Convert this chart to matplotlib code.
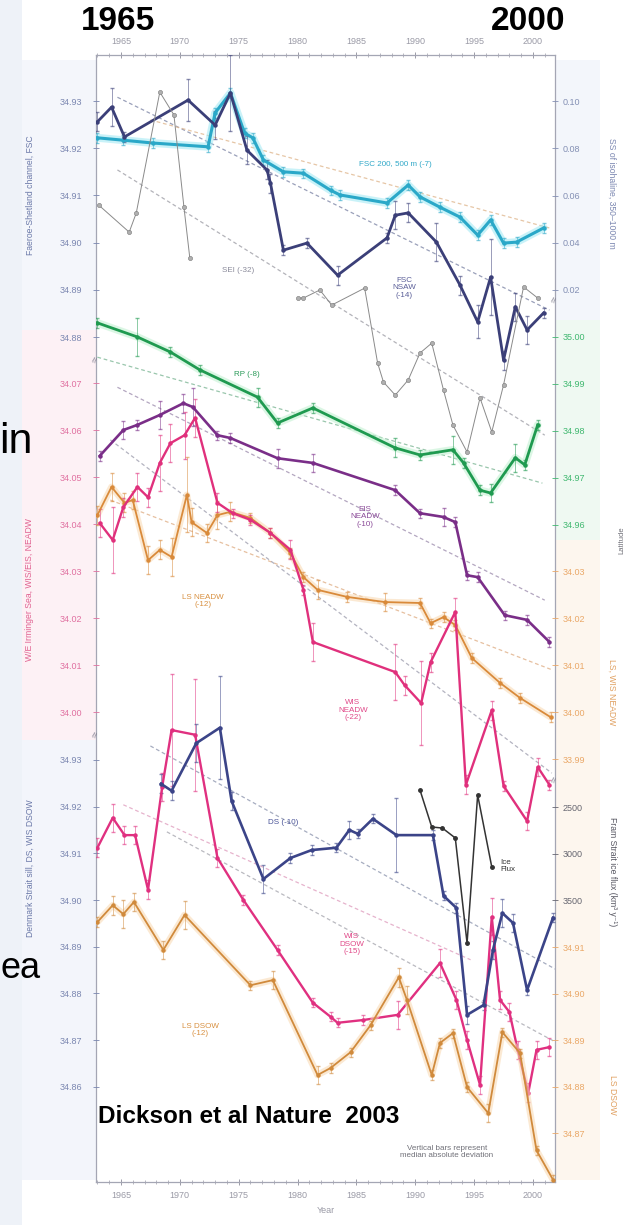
import numpy as np
import matplotlib.pyplot as plt
from matplotlib.patches import Rectangle

plt.rcParams['font.family'] = ['Liberation Sans', 'DejaVu Sans']

# ---------------- data ----------------
# top panel: Faeroe-Shetland Channel (left axis, salinity)
nsaw_years = [1963.0, 1964.2, 1965.3, 1970.7, 1973.0, 1974.3, 1975.7, 1977.4, 1977.7, 1978.8, 1980.8, 1983.4,
              1987.6, 1988.3, 1989.4, 1991.8, 1993.8, 1995.3, 1996.4, 1997.5, 1998.5, 1999.5, 2000.9]
nsaw_sal = [34.9256, 34.9287, 34.9224, 34.9302, 34.9249, 34.9317, 34.9196, 34.9154, 34.9126, 34.8984, 34.8999, 34.8931,
            34.9010, 34.9058, 34.9063, 34.9001, 34.8910, 34.8832, 34.8927, 34.8751, 34.8864, 34.8815, 34.8851]
nsaw_err = [0.002, 0.004, 0.001, 0.0045, 0.003, 0.008, 0.003, 0.002, 0.002, 0.001, 0.001, 0.002,
            0.001, 0.003, 0.002, 0.004, 0.002, 0.0035, 0.008, 0.002, 0.003, 0.003, 0.001]

fsc_years = [1963.0, 1965.2, 1967.7, 1972.4, 1973.0, 1974.3, 1975.5, 1976.2, 1977.1, 1978.8, 1980.5, 1982.8,
             1983.6, 1987.6, 1989.4, 1990.4, 1992.1, 1993.8, 1995.3, 1996.4, 1997.5, 1998.6, 2000.9]
fsc_sal = [34.9222, 34.9217, 34.9211, 34.9203, 34.9275, 34.9317, 34.9232, 34.9222, 34.9175, 34.9150, 34.9147, 34.9111,
           34.9101, 34.9084, 34.9122, 34.9097, 34.9075, 34.9054, 34.9016, 34.9048, 34.8999, 34.9001, 34.9031]

# grey series on the right "SS of isohaline" axis (gap between the two surveys)
sei_years = [1963.1, 1965.7, 1966.3, 1968.3, 1969.5, 1970.35, 1970.85, np.nan,
             1980.0, 1980.5, 1981.9, 1982.9, 1985.7, 1986.8, 1987.3, 1988.3, 1989.4, 1990.4, 1991.4,
             1992.4, 1993.2, 1994.4, 1995.5, 1996.5, 1997.5, 1999.2, 2000.4]
sei_val = [0.0560, 0.0445, 0.0526, 0.1038, 0.0941, 0.0551, 0.0335, np.nan,
           0.0166, 0.0166, 0.0200, 0.0136, 0.0208, -0.0109, -0.0190, -0.0245, -0.0181, -0.0067, -0.0025,
           -0.0224, -0.0372, -0.0486, -0.0257, -0.0401, -0.0202, 0.0213, 0.0166]

# middle panel
rp_years = [1963.0, 1966.4, 1969.2, 1971.7, 1976.6, 1978.3, 1981.3, 1988.3, 1990.4, 1993.2, 1994.1, 1995.5,
            1996.4, 1998.5, 1999.3, 2000.4]
rp_sal = [35.0030, 35.0000, 34.9968, 34.9930, 34.9872, 34.9817, 34.9849, 34.9764, 34.9749, 34.9760, 34.9732, 34.9674,
          34.9668, 34.9743, 34.9728, 34.9813]
rp_err = [0.001, 0.004, 0.001, 0.001, 0.002, 0.001, 0.001, 0.002, 0.001, 0.003, 0.001, 0.001,
          0.002, 0.003, 0.001, 0.001]

eis_years = [1963.2, 1965.2, 1966.4, 1968.3, 1970.3, 1971.1, 1973.2, 1974.3, 1978.3, 1981.3, 1988.3, 1990.4,
             1992.4, 1993.4, 1994.4, 1995.3, 1997.6, 1999.5, 2001.4]
eis_sal = [34.0545, 34.0600, 34.0611, 34.0632, 34.0657, 34.0649, 34.0589, 34.0583, 34.0540, 34.0530, 34.0472, 34.0423,
           34.0415, 34.0404, 34.0291, 34.0287, 34.0206, 34.0196, 34.0149]
eis_err = [0.001, 0.002, 0.001, 0.003, 0.002, 0.004, 0.001, 0.001, 0.002, 0.002, 0.001, 0.001,
           0.002, 0.001, 0.001, 0.001, 0.001, 0.001, 0.001]

wisn_years = [1963.2, 1964.3, 1965.2, 1966.4, 1967.3, 1968.3, 1969.2, 1970.4, 1971.3, 1973.2, 1974.5, 1976.0,
              1977.7, 1979.4, 1980.5, 1981.3, 1988.3, 1989.1, 1990.5, 1991.3, 1993.4, 1994.3, 1996.5, 1997.5,
              1999.5, 2000.4, 2001.4]
wisn_sal = [34.0402, 34.0366, 34.0436, 34.0479, 34.0457, 34.0530, 34.0572, 34.0589, 34.0626, 34.0445, 34.0423, 34.0409,
            34.0381, 34.0345, 34.0260, 34.0149, 34.0085, 34.0057, 34.0019, 34.0106, 34.0213, 33.9845, 34.0004, 33.9843,
            33.9768, 33.9883, 33.9845]
wisn_err = [0.003, 0.007, 0.002, 0.003, 0.002, 0.006, 0.004, 0.005, 0.004, 0.002, 0.001, 0.001,
            0.001, 0.002, 0.001, 0.004, 0.006, 0.002, 0.009, 0.002, 0.003, 0.002, 0.002, 0.001,
            0.002, 0.002, 0.001]

lsn_years = [1963.0, 1964.2, 1965.3, 1966.0, 1967.3, 1968.3, 1969.3, 1970.6, 1971.0, 1972.3, 1973.2, 1974.3,
             1976.0, 1977.7, 1979.4, 1980.5, 1981.7, 1984.2, 1987.4, 1990.4, 1991.3, 1992.4, 1993.4, 1994.8,
             1997.2, 1998.9, 2001.5]
lsn_sal = [34.0419, 34.0479, 34.0445, 34.0451, 34.0323, 34.0345, 34.0330, 34.0462, 34.0404, 34.0381, 34.0419, 34.0426,
           34.0413, 34.0381, 34.0338, 34.0287, 34.0260, 34.0245, 34.0234, 34.0232, 34.0189, 34.0202, 34.0185, 34.0115,
           34.0062, 34.0030, 33.9989]
lsn_err = [0.002, 0.003, 0.002, 0.002, 0.003, 0.002, 0.004, 0.008, 0.003, 0.002, 0.003, 0.002,
           0.001, 0.001, 0.001, 0.001, 0.002, 0.001, 0.002, 0.001, 0.001, 0.001, 0.001, 0.001,
           0.001, 0.001, 0.001]

# bottom panel
ds_years = [1968.4, 1969.3, 1971.4, 1973.4, 1974.4, 1977.1, 1979.4, 1981.2, 1983.3, 1984.4, 1985.1, 1986.4,
            1988.4, 1991.5, 1992.4, 1993.5, 1994.4, 1995.8, 1996.6, 1997.4, 1998.3, 1999.5, 2001.7]
ds_sal = [34.9249, 34.9234, 34.9336, 34.9369, 34.9212, 34.9045, 34.9090, 34.9107, 34.9112, 34.9150, 34.9142, 34.9174,
          34.9139, 34.9139, 34.9009, 34.8983, 34.8754, 34.8775, 34.8893, 34.8972, 34.8951, 34.8807, 34.8962]
ds_err = [0.002, 0.002, 0.004, 0.011, 0.002, 0.003, 0.001, 0.001, 0.001, 0.002, 0.001, 0.001,
          0.008, 0.001, 0.001, 0.001, 0.002, 0.001, 0.002, 0.003, 0.002, 0.001, 0.001]

wisd_years = [1963.0, 1964.3, 1965.3, 1966.2, 1967.3, 1968.5, 1969.3, 1971.3, 1973.2, 1975.4, 1978.3, 1981.3,
              1982.8, 1983.4, 1985.6, 1988.5, 1992.1, 1993.5, 1994.4, 1995.5, 1996.5, 1997.2, 1998.0, 1998.7,
              1999.6, 2000.3, 2001.4]
wisd_sal = [34.9112, 34.9176, 34.9139, 34.9139, 34.9022, 34.9242, 34.9364, 34.9354, 34.9090, 34.9000, 34.8893, 34.8780,
            34.8750, 34.8737, 34.8743, 34.8754, 34.8865, 34.8786, 34.8700, 34.8604, 34.8964, 34.8786, 34.8760, 34.8679,
            34.8587, 34.8679, 34.8685]
wisd_err = [0.002, 0.003, 0.002, 0.002, 0.002, 0.003, 0.012, 0.012, 0.002, 0.001, 0.001, 0.001,
            0.001, 0.001, 0.001, 0.003, 0.003, 0.002, 0.002, 0.002, 0.004, 0.002, 0.002, 0.002,
            0.002, 0.002, 0.002]

lsd_years = [1963.0, 1964.3, 1965.2, 1966.1, 1968.6, 1970.4, 1976.0, 1977.9, 1981.7, 1982.8, 1984.5, 1986.2,
             1988.6, 1989.3, 1991.4, 1992.1, 1993.2, 1994.4, 1996.2, 1997.4, 1998.9, 2000.3, 2001.7]
lsd_sal = [34.9154, 34.9190, 34.9171, 34.9197, 34.9094, 34.9169, 34.9018, 34.9029, 34.8825, 34.8840, 34.8874, 34.8932,
           34.9035, 34.8986, 34.8825, 34.8894, 34.8915, 34.8799, 34.8743, 34.8917, 34.8872, 34.8663, 34.8600]
lsd_err = [0.001, 0.002, 0.003, 0.002, 0.002, 0.003, 0.001, 0.002, 0.002, 0.001, 0.001, 0.001,
           0.002, 0.003, 0.001, 0.001, 0.001, 0.001, 0.002, 0.001, 0.001, 0.001, 0.001]

ice_years = [1990.4, 1991.4, 1992.3, 1993.4, 1994.4, 1995.3, 1996.5]
ice_flux = [2317, 2715, 2726, 2833, 3962, 2371, 3145]

# dashed linear trends (start / end)
trend_nsaw = ([1964.7, 2001.4], [34.9308, 34.8857])
trend_fsc = ([1967.5, 2001.4], [34.9260, 34.9031])
trend_sei = ([1964.7, 2001.0], [34.9154, 34.8592])
trend_rp = ([1963.0, 2000.8], [34.0755, 34.0487])
trend_eis = ([1964.7, 2001.0], [34.0691, 34.0238])
trend_lsn = ([1964.1, 2001.7], [34.0451, 34.0089])
trend_wisn = ([1964.1, 2001.6], [34.0579, 33.9870])
trend_ds = ([1967.5, 2001.9], [34.9330, 34.8852])
trend_lsd = ([1968.9, 2001.9], [34.9146, 34.8696])
trend_wisd = ([1965.2, 1994.7], [34.9204, 34.8872])

# ---------------- layout ----------------
W, H = 635, 1225
L, R, T, B = 96, 555, 55, 1182
rect = [L / W, 1 - B / H, (R - L) / W, (B - T) / H]
XLIM = (1962.88, 2001.87)


def px(x, y):
    return x / W, 1 - y / H


fig = plt.figure(figsize=(W / 100, H / 100), dpi=100)
fig.patch.set_facecolor('white')

# faint slide / panel tints
for (x0, y0, x1, y1, c) in [(0, 0, 22, 1225, '#eef2f8'), (22, 330, 96, 740, '#fdf1f5'),
                            (22, 740, 96, 1180, '#f3f5fb'), (22, 60, 96, 330, '#f4f6fb'),
                            (555, 320, 600, 540, '#eff9f2'), (555, 540, 600, 1180, '#fdf6ee'),
                            (555, 60, 600, 320, '#f3f6fb')]:
    fig.add_artist(Rectangle((x0 / W, 1 - y1 / H), (x1 - x0) / W, (y1 - y0) / H,
                             transform=fig.transFigure, color=c, zorder=-5, lw=0))

ax = fig.add_axes(rect)
ax.set_xlim(*XLIM)
ax.set_ylim(0, 1)
ax.set_yticks([])
ax.patch.set_visible(False)
for s in ax.spines.values():
    s.set_color('#a4a6b4')
    s.set_linewidth(0.9)
ax.set_xticks(range(1965, 2001, 5))
ax.set_xticks(range(1963, 2002), minor=True)
ax.tick_params(axis='x', which='both', top=True, labeltop=True, direction='inout',
               colors='#9a9aa6', labelsize=6.5)
ax.tick_params(axis='x', which='major', length=5, width=0.7, pad=4)
ax.tick_params(axis='x', which='minor', length=3, width=0.5)
ax.set_xlabel('Year', fontsize=6.5, color='#9a9aa6', labelpad=4)


def layer(ylim, side=None, ticks=(), fmt='{:.2f}', color='#777', pad=3.5):
    a = fig.add_axes(rect)
    a.patch.set_visible(False)
    for s in a.spines.values():
        s.set_visible(False)
    a.set_xlim(*XLIM)
    a.set_ylim(*ylim)
    a.set_xticks([])
    if side:
        a.yaxis.set_ticks_position(side)
        a.set_yticks(list(ticks))
        a.set_yticklabels([fmt.format(t) for t in ticks])
        a.tick_params(axis='y', colors=color, labelsize=6.5, length=4, width=0.6,
                      direction='inout', pad=pad)
    else:
        a.set_yticks([])
    return a


ax_top = layer((34.70097, 34.93975), 'left', [34.88, 34.89, 34.90, 34.91, 34.92, 34.93],
               color='#7a86b0', pad=8)
ax_ss = layer((-0.3577, 0.1195), 'right', [0.02, 0.04, 0.06, 0.08, 0.10], color='#8490b4')
ax_mid = layer((33.9, 34.1398), 'left', [34.00, 34.01, 34.02, 34.03, 34.04, 34.05, 34.06, 34.07],
               color='#e070a0', pad=8)
ax_rp = layer((34.8202, 35.06), 'right', [34.96, 34.97, 34.98, 34.99, 35.00], color='#40b870')
ax_mid_r = layer((33.9, 34.1398), 'right', [33.99, 34.00, 34.01, 34.02, 34.03], color='#eaa868')
ax_bot = layer((34.8396, 35.081), 'left', [34.86, 34.87, 34.88, 34.89, 34.90, 34.91, 34.92, 34.93],
               color='#7a86b0', pad=8)
ax_ice = layer((6532, -5586), 'right', [2500, 3000, 3500], fmt='{:.0f}', color='#666670')
ax_lsd = layer((34.8595, 35.1018), 'right', [34.87, 34.88, 34.89, 34.90, 34.91], color='#eaa868')

DASH = (0, (3, 2.2))


def trend(a, tr, color):
    a.plot(tr[0], tr[1], ls=DASH, lw=0.9, color=color, alpha=0.8, zorder=1)


def series(a, x, y, color, lw=1.8, err=None, halo=None, ms=2.2):
    if halo:
        a.plot(x, y, color=halo, lw=lw + 3.5, alpha=0.55, solid_capstyle='round', zorder=2)
    if err is not None:
        a.errorbar(x, y, yerr=err, fmt='none', ecolor=color, elinewidth=0.6, capsize=1.2,
                   alpha=0.6, zorder=3)
    a.plot(x, y, color=color, lw=lw, marker='o', ms=ms, zorder=4)


# trends
trend(ax_top, trend_nsaw, '#8088a8')
trend(ax_top, trend_fsc, '#e0b890')
trend(ax_top, trend_sei, '#a0a0a8')
trend(ax_mid, trend_rp, '#80b898')
trend(ax_mid, trend_eis, '#a090b0')
trend(ax_mid, trend_lsn, '#e0b088')
trend(ax_mid, trend_wisn, '#a0a0b0')
trend(ax_bot, trend_ds, '#9098b0')
trend(ax_bot, trend_lsd, '#a8a8b0')
trend(ax_bot, trend_wisd, '#e0a0c0')

# top panel
ax_ss.plot(sei_years, sei_val, color='#8a8a8a', lw=0.7, marker='o', ms=3,
           mfc='#b0b0b0', mec='#777777', mew=0.4, zorder=3)
series(ax_top, fsc_years, fsc_sal, '#2aa8c8', lw=2.2, halo='#9ee8f4',
       err=[0.001] * len(fsc_years))
series(ax_top, nsaw_years, nsaw_sal, '#3b3f78', lw=2.0, err=nsaw_err)

# middle panel
series(ax_rp, rp_years, rp_sal, '#1f9a50', lw=2.0, err=rp_err, halo='#bff0cf')
series(ax_mid, lsn_years, lsn_sal, '#d98a3a', lw=1.3, err=lsn_err, halo='#f8d8b0')
series(ax_mid, eis_years, eis_sal, '#7a2e88', lw=1.9, err=eis_err)
series(ax_mid, wisn_years, wisn_sal, '#e0307c', lw=1.7, err=wisn_err)

# bottom panel
series(ax_lsd, lsd_years, lsd_sal, '#d08a3c', lw=1.3, err=lsd_err, halo='#f8d8b0')
series(ax_bot, wisd_years, wisd_sal, '#e03080', lw=1.7, err=wisd_err)
series(ax_bot, ds_years, ds_sal, '#3b4488', lw=1.9, err=ds_err)
ax_ice.plot(ice_years, ice_flux, color='#333333', lw=1.1, marker='o', ms=2.5, zorder=4)

# in-plot labels
lab = dict(fontsize=5.8, ha='center', va='center')
fig.text(*px(395, 165), 'FSC 200, 500 m (-7)', color='#30a8c8', **lab)
fig.text(*px(238, 270), 'SEI (-32)', color='#8a8a9a', **lab)
fig.text(*px(404, 288), 'FSC\nNSAW\n(-14)', color='#5a5e98', linespacing=1.1, **lab)
fig.text(*px(247, 375), 'RP (-8)', color='#2a9a58', **lab)
fig.text(*px(365, 517), 'EIS\nNEADW\n(-10)', color='#8a4a98', linespacing=1.1, **lab)
fig.text(*px(203, 601), 'LS NEADW\n(-12)', color='#d89040', linespacing=1.1, **lab)
fig.text(*px(353, 710), 'WIS\nNEADW\n(-22)', color='#e04888', linespacing=1.1, **lab)
fig.text(*px(283, 822), 'DS (-10)', color='#4a5498', **lab)
fig.text(*px(500, 866), 'Ice\nFlux', color='#333333', fontsize=5.8, ha='left', va='center', linespacing=1.1)
fig.text(*px(352, 944), 'WIS\nDSOW\n(-15)', color='#e04888', linespacing=1.1, **lab)
fig.text(*px(200, 1030), 'LS DSOW\n(-12)', color='#d89040', linespacing=1.1, **lab)
fig.text(*px(447, 1152), 'Vertical bars represent\nmedian absolute deviation', color='#707078',
         fontsize=5.8, ha='center', va='center', linespacing=1.0)

# axis titles
side = dict(fontsize=6.2, ha='center', va='center')
fig.text(*px(30, 195), 'Faeroe-Shetland channel, FSC', rotation=90, color='#6a78a8', **side)
fig.text(*px(30, 590), 'W/E Irminger Sea, WIS/EIS, NEADW', rotation=90, color='#e06090', **side)
fig.text(*px(30, 868), 'Denmark Strait sill, DS, WIS DSOW', rotation=90, color='#6a78a8', **side)
fig.text(*px(612, 193), 'SS of isohaline, 350\u20131000 m', rotation=270, color='#7a86b0', **side)
fig.text(*px(622, 540), 'Latitude', rotation=90, color='#707078', fontsize=5.5, ha='center', va='center')
fig.text(*px(612, 692), 'LS, WIS NEADW', rotation=270, color='#e0a060', **side)
fig.text(*px(612, 872), 'Fram Strait ice flux (km\u00b3 y\u207b\u00b9)', rotation=270, color='#555560', **side)
fig.text(*px(612, 1095), 'LS DSOW', rotation=270, color='#e0a060', **side)

# axis-break marks
for (x, y) in [(96, 360), (96, 735), (555, 300), (555, 780)]:
    fig.text(*px(x, y), '\u2248', rotation=70, fontsize=8, color='#808090', ha='center', va='center')

# slide overlay text
big = dict(fontweight='bold', color='black', ha='center', va='center')
fig.text(*px(118, 22), '1965', fontsize=24, **big)
fig.text(*px(528, 22), '2000', fontsize=24, **big)
fig.text(*px(-1, 453), 'in', fontsize=31, color='black', ha='left', va='baseline')
fig.text(*px(0, 978), 'ea', fontsize=26, color='black', ha='left', va='baseline')
fig.text(*px(98, 1123), 'Dickson et al Nature  2003', fontsize=17.5, fontweight='bold',
         color='black', ha='left', va='baseline')

fig.savefig('out.png', dpi=100)
